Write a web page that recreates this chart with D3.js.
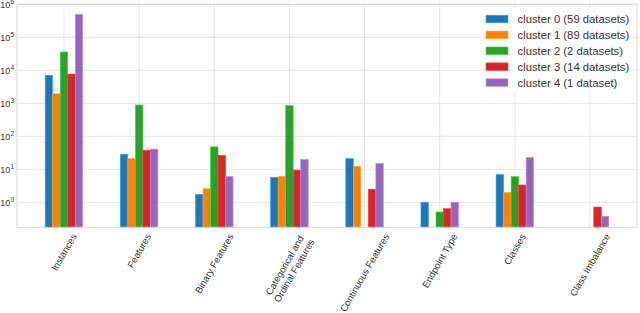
<!DOCTYPE html>
<meta charset="utf-8">
<script src="https://cdn.jsdelivr.net/npm/d3@7"></script>

<style>
body {
  margin: 0;
  background: #fff;
}

text {
  font-family: "Liberation Sans", Arial, sans-serif;
  fill: #333;
}

.grid line {
  stroke: #e4e4e4;
  stroke-width: 1px;
}

.frame {
  fill: none;
  stroke: #d6d6d6;
  stroke-width: 1px;
}
</style>

<body>

<script>

// categories along the x axis ("\n" splits a label in two lines)
var categories = ["Instances", "Features", "Binary Features",
    "Categorical and\nOrdinal Features", "Continuous Features",
    "Endpoint Type", "Classes", "Class Imbalance"];

var seriesNames = ["cluster 0 (59 datasets)", "cluster 1 (89 datasets)",
    "cluster 2 (2 datasets)", "cluster 3 (14 datasets)", "cluster 4 (1 dataset)"];

// one array per cluster, one value per category (null = no bar)
var cluster0 = [7050, 28.5, 1.75, 5.7, 21, 1.0, 6.9, null];
var cluster1 = [1950, 21, 2.6, 6.1, 12.3, null, 2.0, null];
var cluster2 = [35900, 890, 48, 850, null, 0.51, 6.0, null];
var cluster3 = [7700, 38, 26.5, 9.5, 2.5, 0.64, 3.35, 0.72];
var cluster4 = [500000, 41, 6.1, 20, 15.2, 1.0, 23, 0.38];

var yTicks = [1, 10, 100, 1000, 10000, 100000, 1000000];

var series = [cluster0, cluster1, cluster2, cluster3, cluster4];
var colors = ["#1f77b4", "#ff7f0e", "#2ca02c", "#d62728", "#9467bd"];

var width = 640,
    height = 313;

var plotLeft = 17, plotRight = 637, plotTop = 4.3, plotBottom = 227.3;

var x = d3.scaleLinear()
    .domain([-0.625, categories.length - 1 + 0.625])
    .range([plotLeft, plotRight]);

var y = d3.scaleLog()
    .domain([0.175, 1e6])
    .range([plotBottom, plotTop]);

var barWidth = 0.1;

var svg = d3.select("body").append("svg")
    .attr("width", width)
    .attr("height", height);

// grid lines
var grid = svg.append("g").attr("class", "grid");

grid.selectAll(".hgrid")
    .data(yTicks)
  .enter().append("line")
    .attr("x1", plotLeft)
    .attr("x2", plotRight)
    .attr("y1", function(d) { return y(d); })
    .attr("y2", function(d) { return y(d); });

grid.selectAll(".vgrid")
    .data(categories)
  .enter().append("line")
    .attr("x1", function(d, i) { return x(i); })
    .attr("x2", function(d, i) { return x(i); })
    .attr("y1", plotTop)
    .attr("y2", plotBottom);

// bars
series.forEach(function(values, k) {
  svg.append("g")
    .selectAll("rect")
    .data(values.map(function(v, i) { return {i: i, v: v}; })
        .filter(function(d) { return d.v != null; }))
    .enter().append("rect")
      .attr("x", function(d) { return x(d.i + (k - 2.5) * barWidth); })
      .attr("width", x(barWidth) - x(0))
      .attr("y", function(d) { return y(d.v); })
      .attr("height", function(d) { return plotBottom - y(d.v); })
      .style("fill", colors[k])
      .style("stroke", d3.color(colors[k]).brighter(0.9))
      .style("stroke-width", 0.6);
});

svg.append("rect")
    .attr("class", "frame")
    .attr("x", plotLeft)
    .attr("y", plotTop)
    .attr("width", plotRight - plotLeft)
    .attr("height", plotBottom - plotTop);

// y axis, labels as 10 with a superscript
var yAxis = svg.append("g")
    .attr("transform", "translate(" + plotLeft + ",0)")
    .call(d3.axisLeft(y).tickValues(yTicks).tickSize(0).tickPadding(3));

yAxis.select(".domain").remove();

yAxis.selectAll("text")
    .style("font-size", "9px")
    .style("font-family", "\"Liberation Sans\", Arial, sans-serif")
    .attr("fill", "#333")
    .text("10")
    .append("tspan")
    .attr("dy", "-0.5em")
    .style("font-size", "6.5px")
    .text(function(d) { return Math.round(Math.log10(d)); });

// rotated x labels, box centred under the tick
var angle = 60 * Math.PI / 180;
var xFont = 9.5, lineH = 1.15 * xFont;

categories.forEach(function(name, i) {
  var lines = name.split("\n");
  var t = svg.append("text")
      .style("font-size", xFont + "px")
      .attr("text-anchor", "middle");
  lines.forEach(function(l, j) {
    t.append("tspan")
      .attr("x", 0)
      .attr("y", (j - (lines.length - 1) / 2) * lineH + 0.35 * xFont)
      .text(l);
  });
  var L = d3.max(t.selectAll("tspan").nodes(), function(n) { return n.getComputedTextLength(); });
  var H = lines.length * lineH;
  var vExtent = L * Math.sin(angle) + H * Math.cos(angle);
  t.attr("transform", "translate(" + x(i) + "," + (plotBottom + 4.5 + vExtent / 2) + ") rotate(-60)");
});

// legend
var legend = svg.append("g");

legend.append("rect")
    .attr("x", 480)
    .attr("y", 8)
    .attr("width", 153)
    .attr("height", 84)
    .attr("rx", 3)
    .style("fill", "#fff")
    .style("opacity", 0.85);

var item = legend.selectAll(".item")
    .data(seriesNames)
  .enter().append("g")
    .attr("transform", function(d, k) { return "translate(486," + (19 + k * 15.9) + ")"; });

item.append("rect")
    .attr("x", 0)
    .attr("y", -3.8)
    .attr("width", 22)
    .attr("height", 7.6)
    .style("fill", function(d, k) { return colors[k]; })
    .style("stroke", function(d, k) { return d3.color(colors[k]).brighter(0.9); })
    .style("stroke-width", 0.6);

item.append("text")
    .attr("x", 31.5)
    .attr("y", 4)
    .style("font-size", "11.3px")
    .text(function(d) { return d; });

</script>
</body>
</html>
